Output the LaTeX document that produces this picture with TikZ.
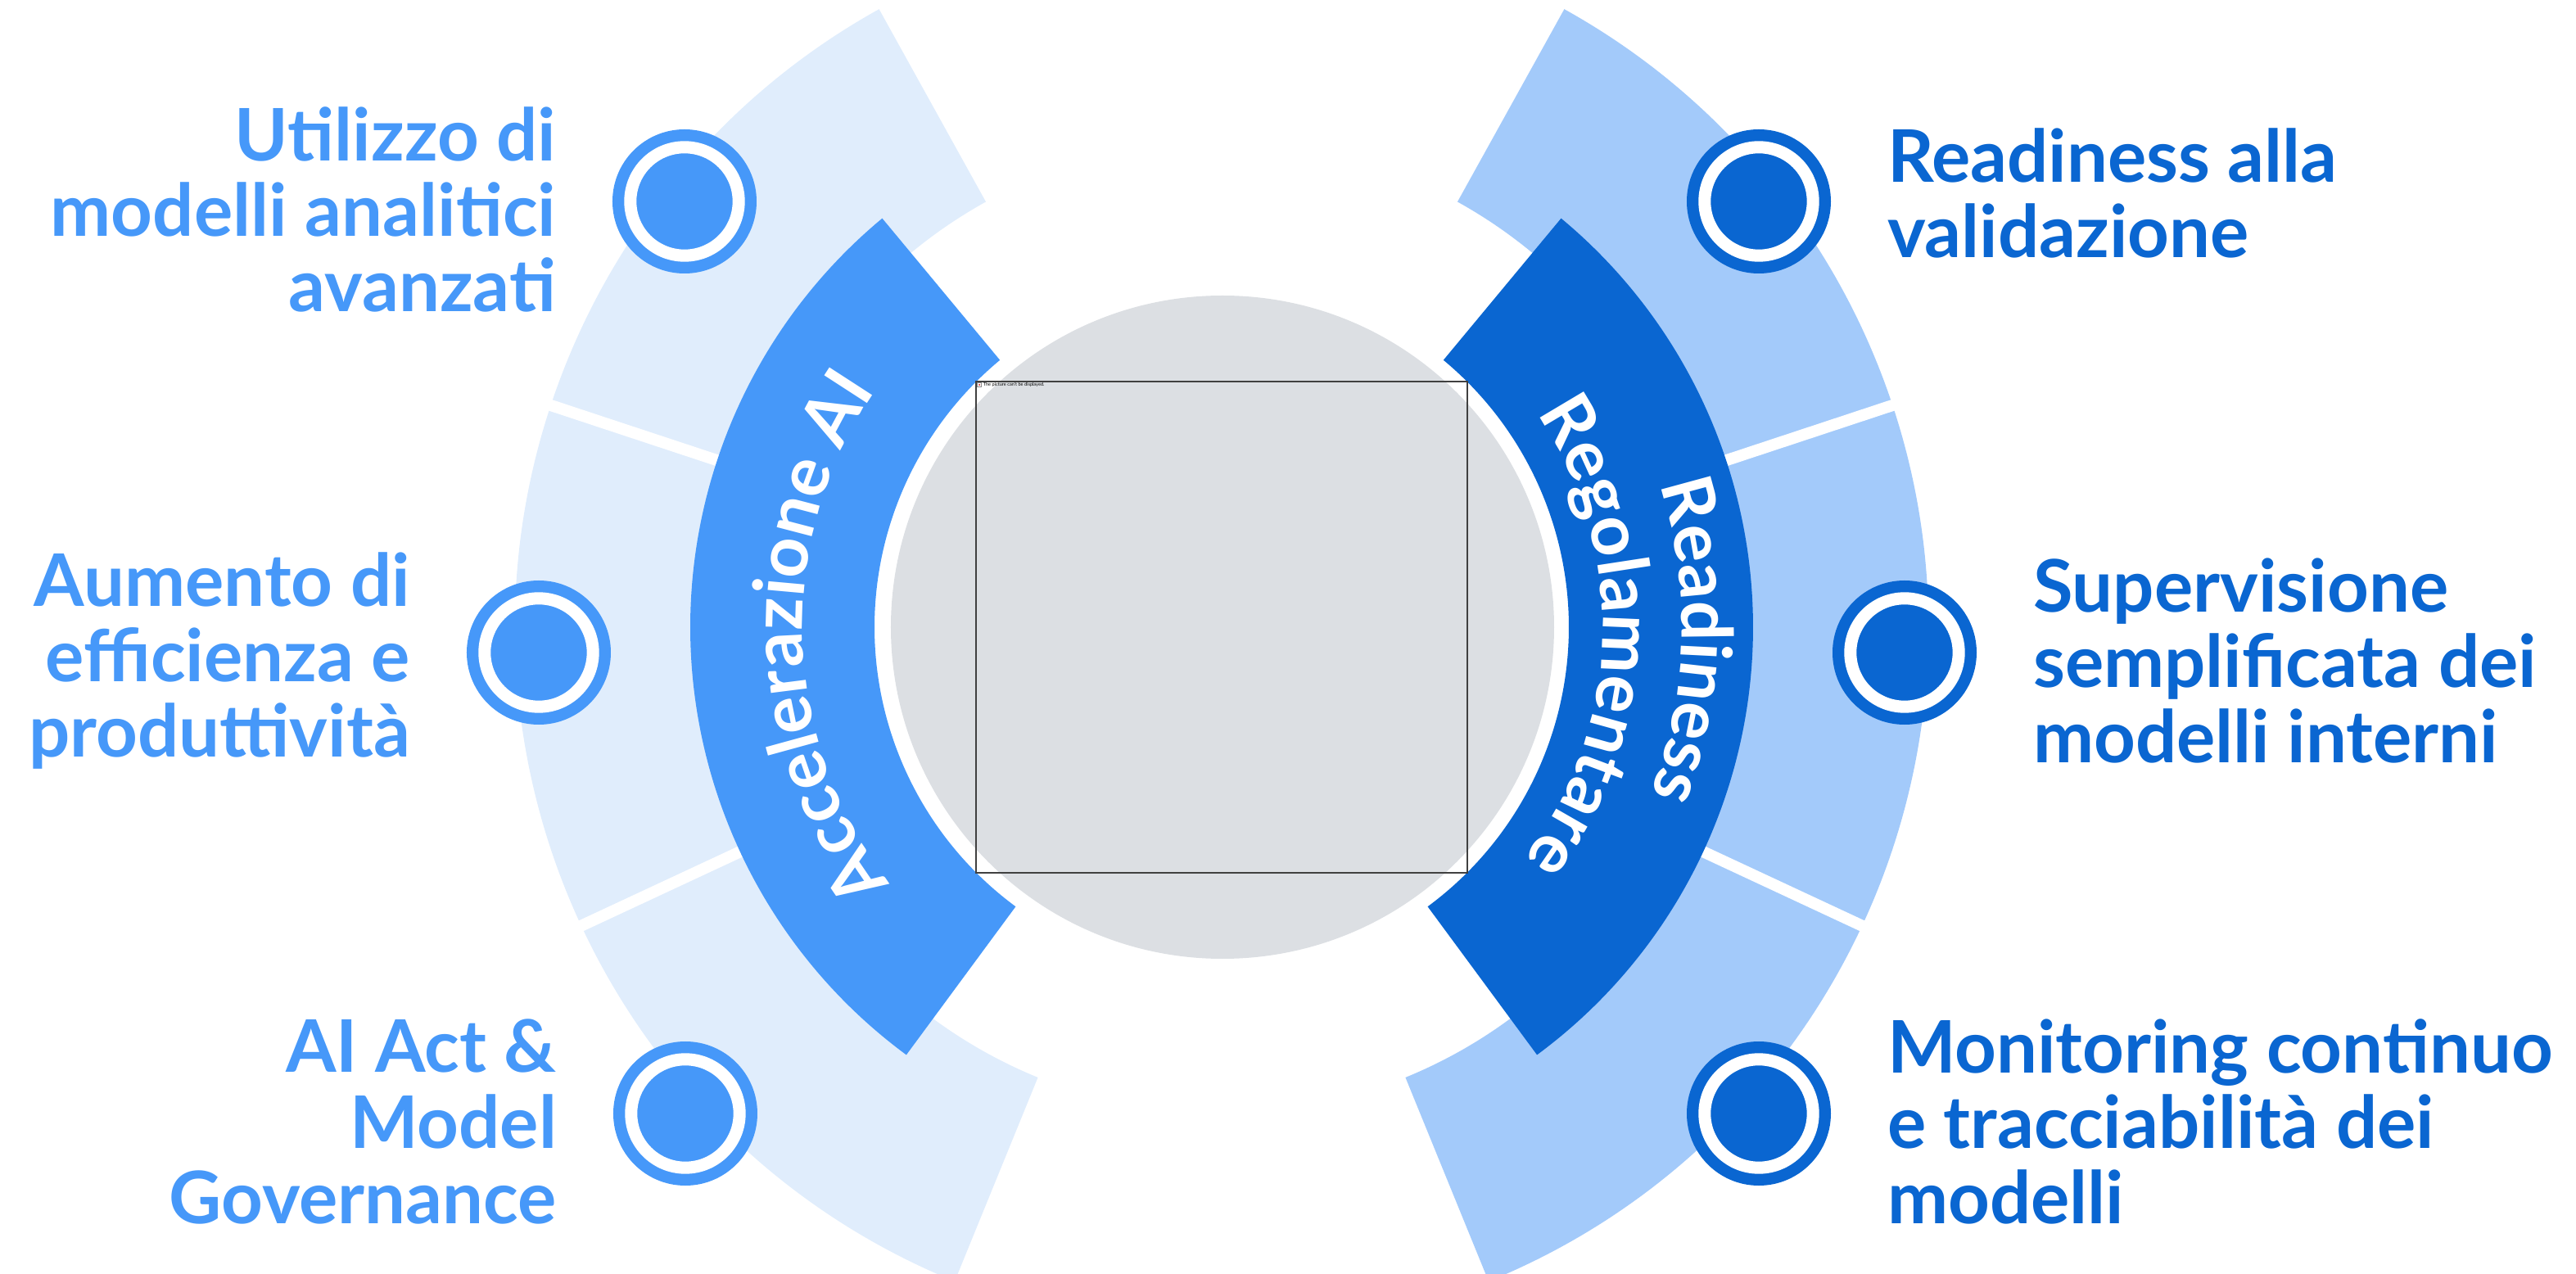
\documentclass[tikz,border=0pt]{standalone}
\usepackage{fontspec}
\setmainfont{Lato}
\usetikzlibrary{positioning,decorations.text}
\definecolor{bandpale}{HTML}{E0EDFC}
\definecolor{bandmid}{HTML}{4698F9}
\definecolor{bandsoft}{HTML}{A3CAFA}
\definecolor{banddeep}{HTML}{0A66D1}
\definecolor{hubgray}{HTML}{DCDFE3}
\newcommand\bandfont{\fontsize{24.5}{28}\selectfont\bfseries}

\begin{document}
\begin{tikzpicture}[
    marker/.style={circle, inner sep=0pt, minimum size=1.324cm, fill=#1, draw=#1, line width=1.43mm, double=white, double distance=1.5mm},
    lbl/.style={font=\fontsize{25.2}{26.2}\selectfont\bfseries, text=#1, inner sep=0pt},
    divider/.style={white, line width=1.4mm},
    bandtext/.style={decorate, decoration={text along path, text align=center, text color=white, text={|\bandfont|#1}}}
]
\useasboundingbox (-14.92,-7.90) rectangle (16.54,7.66);
\clip (-14.92,-7.90) rectangle (16.54,7.66);

% outer bands
\fill[bandpale] (119:5.94) arc[start angle=119, end angle=247.8, radius=5.94] -- (247.8:8.63) arc[start angle=247.8, end angle=119, radius=8.63] -- cycle;
\fill[bandsoft] (61:5.94) arc[start angle=61, end angle=-67.8, radius=5.94] -- (-67.8:8.63) arc[start angle=-67.8, end angle=61, radius=8.63] -- cycle;
\foreach \a in {161.7,205,18.3,-25}
    \draw[divider] (\a:5.8) -- (\a:8.8);

% inner bands
\fill[bandmid] (129.7:4.24) arc[start angle=129.7, end angle=233.6, radius=4.24] -- (233.6:6.49) arc[start angle=233.6, end angle=129.7, radius=6.49] -- cycle;
\fill[banddeep] (50.3:4.24) arc[start angle=50.3, end angle=-53.6, radius=4.24] -- (-53.6:6.49) arc[start angle=-53.6, end angle=50.3, radius=6.49] -- cycle;
\path[bandtext=Accelerazione AI] (233.6:5.12) arc[start angle=233.6, end angle=129.7, radius=5.12];
\path[bandtext=Readiness] (50.3:5.62) arc[start angle=50.3, end angle=-53.6, radius=5.62];
\path[bandtext=Regolamentare] (50.3:4.65) arc[start angle=50.3, end angle=-53.6, radius=4.65];

% hub
\fill[hubgray] (0.01,0) circle (4.05);
\node[draw=black!75, line width=0.5pt, minimum size=6cm, inner sep=0pt] (pic) at (0,0) {};
\node[draw=black!45, line width=0.15pt, fill=white, minimum size=0.05cm, inner sep=0pt] (icon) at ([xshift=0.05cm, yshift=-0.05cm]pic.north west) {};
\fill[red!80!black] (icon.center) circle (0.01);
\node[anchor=west, inner sep=0pt, font=\fontsize{1.6}{2}\selectfont] (pictxt) at ([xshift=0.09cm, yshift=-0.05cm]pic.north west) {The picture can't be displayed.};

% markers
\node[marker=bandmid] (utilizzo) at (-6.56,5.20) {};
\node[marker=bandmid] (aumento) at (-8.34,-0.31) {};
\node[marker=bandmid] (aiact) at (-6.55,-5.94) {};
\node[marker=banddeep] (readiness) at (6.56,5.20) {};
\node[marker=banddeep] (supervisione) at (8.34,-0.31) {};
\node[marker=banddeep] (monitoring) at (6.56,-5.94) {};

% labels
\node[lbl=bandmid, align=right, left=0.83cm of utilizzo, yshift=-0.1cm] (utilizzo-txt) {Utilizzo di\\modelli analitici\\avanzati};
\node[lbl=bandmid, align=right, left=0.83cm of aumento, yshift=-0.1cm] (aumento-txt) {Aumento di\\efficienza e\\produttività};
\node[lbl=bandmid, align=right, left=0.83cm of aiact, yshift=-0.1cm] (aiact-txt) {AI Act \&\\Model\\Governance};
\node[lbl=banddeep, align=left, right=0.83cm of readiness, yshift=0.1cm] (readiness-txt) {Readiness alla\\validazione};
\node[lbl=banddeep, align=left, right=0.83cm of supervisione, yshift=-0.1cm] (supervisione-txt) {Supervisione\\semplificata dei\\modelli interni};
\node[lbl=banddeep, align=left, right=0.83cm of monitoring, yshift=-0.1cm] (monitoring-txt) {Monitoring continuo\\e tracciabilità dei\\modelli};
\end{tikzpicture}
\end{document}
